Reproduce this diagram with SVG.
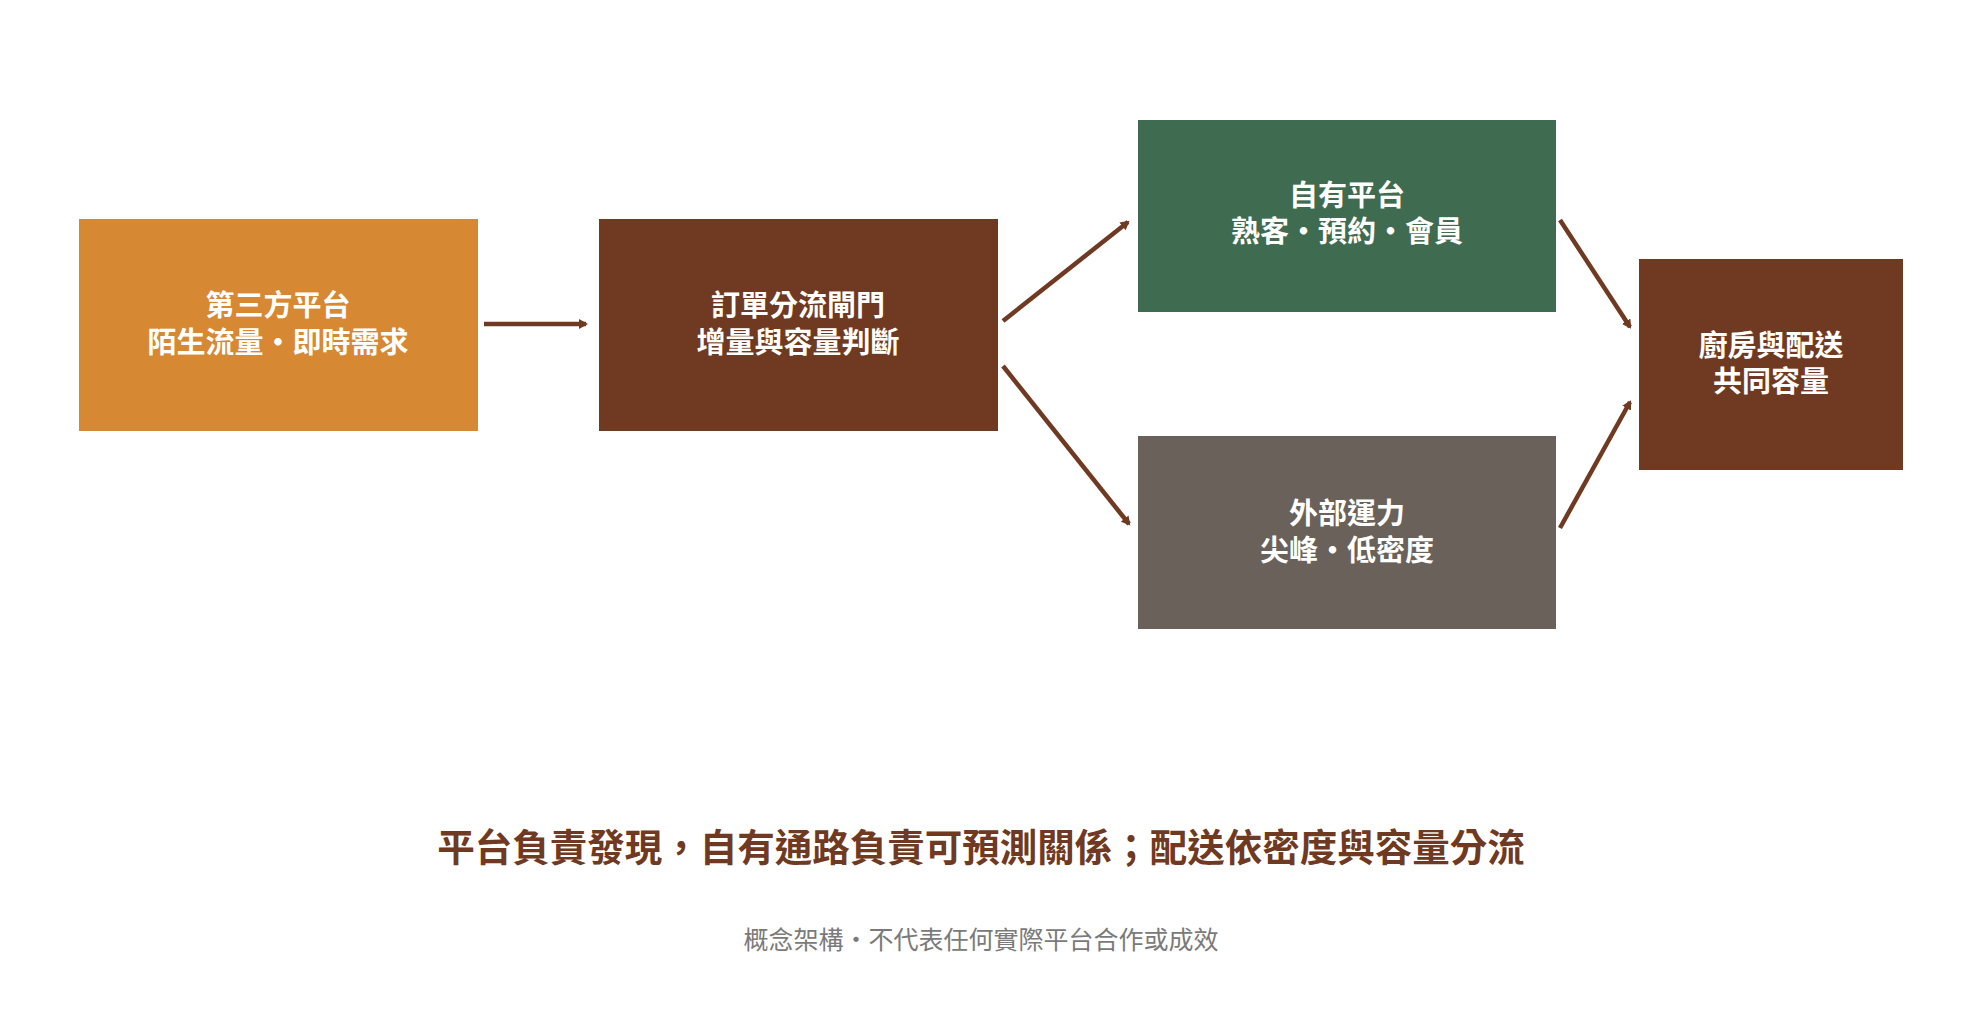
<svg xmlns="http://www.w3.org/2000/svg" width="1961" height="1026" viewBox="0 0 1961 1026">
<style>
text{font-family:"Noto Sans CJK TC","Noto Sans CJK SC",sans-serif;text-anchor:middle;dominant-baseline:central}
.n{fill:#fff;font-size:29px;font-weight:bold}
.c{stroke:#6F3A21;stroke-width:4.5;fill:none;marker-end:url(#a)}
</style>
<defs><marker id="a" markerWidth="10" markerHeight="10" refX="7" refY="5" orient="auto" markerUnits="userSpaceOnUse"><path d="M0,0L9,5L0,10Z" fill="#6F3A21"/></marker></defs>
<rect width="1961" height="1026" fill="#fff"/>
<g id="n1"><rect x="79" y="219" width="399" height="212" fill="#D68833"/><text class="n" x="278" y="303">第三方平台</text><text class="n" x="278" y="340">陌生流量・即時需求</text></g>
<g id="n2"><rect x="599" y="219" width="399" height="212" fill="#6F3A21"/><text class="n" x="798" y="303">訂單分流閘門</text><text class="n" x="798" y="340">增量與容量判斷</text></g>
<g id="n3"><rect x="1138" y="120" width="418" height="192" fill="#3F6B50"/><text class="n" x="1347" y="193">自有平台</text><text class="n" x="1347" y="229">熟客・預約・會員</text></g>
<g id="n4"><rect x="1138" y="436" width="418" height="193" fill="#6A615A"/><text class="n" x="1347" y="511">外部運力</text><text class="n" x="1347" y="548">尖峰・低密度</text></g>
<g id="n5"><rect x="1639" y="259" width="264" height="211" fill="#6F3A21"/><text class="n" x="1771" y="343">廚房與配送</text><text class="n" x="1771" y="379">共同容量</text></g>
<g id="connectors">
<path class="c" d="M484,324L586,324"/>
<path class="c" d="M1003,321L1128,222"/>
<path class="c" d="M1003,366L1129,524"/>
<path class="c" d="M1560,220L1630,327"/>
<path class="c" d="M1560,528L1630,402"/>
</g>
<text x="981" y="844" font-size="37.5" font-weight="bold" fill="#6F3A21">平台負責發現，自有通路負責可預測關係；配送依密度與容量分流</text>
<text x="981" y="938" font-size="25" fill="#7a7a7a">概念架構・不代表任何實際平台合作或成效</text>
</svg>
